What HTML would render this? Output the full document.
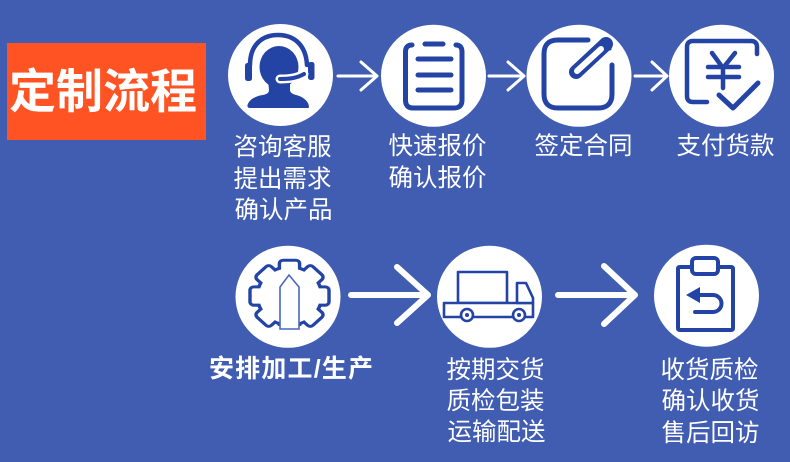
<!DOCTYPE html>
<html><head><meta charset="utf-8"><style>
html,body{margin:0;padding:0;background:#405db2;width:790px;height:462px;overflow:hidden}
svg{display:block}
text{font-family:"Liberation Sans","Noto Sans CJK SC",sans-serif;fill:#fff;font-size:24.500px}
.b{stroke:#2343a5;fill:none;stroke-linecap:round;stroke-linejoin:round}
.a{stroke:#fff;fill:none;stroke-linecap:round;stroke-linejoin:round}
</style></head><body>
<svg width="790" height="462" viewBox="0 0 790 462" xmlns="http://www.w3.org/2000/svg">
<rect width="790" height="462" fill="#405db2"/>
<rect x="7" y="43" width="199" height="97" fill="#ff5323"/>
<text x="9" y="108" style="font-size:47px;font-weight:700">定制流程</text>

<g fill="#fff">
<ellipse cx="280.500" cy="75" rx="52.500" ry="51"/>
<ellipse cx="433.500" cy="75.800" rx="52.500" ry="51"/>
<ellipse cx="579" cy="75.800" rx="52.500" ry="51"/>
<ellipse cx="721.500" cy="75.800" rx="52.500" ry="51"/>
<ellipse cx="288" cy="296.800" rx="52.500" ry="51"/>
<ellipse cx="489.500" cy="296.800" rx="52.500" ry="51"/>
<ellipse cx="706.500" cy="295.700" rx="52.500" ry="51"/>
</g>

<!-- arrows -->
<g class="a" stroke-width="3">
<path d="M338 76H376M361 62L377 76L361 90"/>
<path d="M489 76H523M508 62L524 76L508 90"/>
<path d="M635 76H666M652 62L667 76L652 90"/>
</g>
<g class="a" stroke-width="6">
<path d="M351 295H426M397 267L428 295L397 323"/>
<path d="M558 295H633M604 266L635 295L604 324"/>
</g>

<!-- headset -->
<g>
<ellipse cx="279" cy="67" rx="19.500" ry="21" fill="#2343a5"/>
<path fill="#2343a5" d="M268 80H290V90C290 93 293 94 296 95C304 97 309 102 309 107Q309 108 307 108H250Q247 108 247.500 105C249 100 255 96 263 95C267 94 269 93 269 90Z"/>
<path class="b" stroke-width="4.500" d="M250 65C250 45 262 35 278 35C295 35 306 46 307 65"/>
<rect x="245" y="63" width="7" height="18" rx="2.500" fill="#2343a5"/>
<rect x="308" y="62" width="6.500" height="18" rx="2.500" fill="#2343a5"/>
<path d="M280 79C290 79 297 78 304 74" fill="none" stroke="#fff" stroke-width="9" stroke-linecap="round"/>
<path d="M280 79C290 79 297 78 304 74" fill="none" stroke="#2343a5" stroke-width="4" stroke-linecap="round"/>
</g>

<!-- clipboard -->
<g class="b" stroke-width="5">
<path d="M412 45Q405.500 45 405.500 52V100Q405.500 108 413 108H454Q462 108 462 100V52Q462 45 456 45"/>
<path d="M425 44H443M418 59H451M418 75H451M418 90H451"/>
</g>

<!-- note & pencil -->
<g class="b">
<path stroke-width="5" d="M588 40H558Q544 40 544 54V94Q544 108 558 108H598Q612 108 612 94V65"/>
<path stroke-width="14" d="M576 72L606 44"/>
<path stroke="#fff" stroke-width="6" d="M577 71L601 49"/>
<path stroke-width="3" d="M602 41L610 49"/>
</g>

<!-- yen -->
<g class="b" stroke-width="4.500">
<path d="M757 54V47Q757 41 751 41H693Q687 41 687 47V96Q687 102 693 102H707"/>
<path d="M712 53L723 68L735 53M708 67H739M708 77H739M723 68V88"/>
<path stroke-width="5" d="M719 95L733 108L758 83"/>
</g>

<!-- gear -->
<g transform="translate(289.500 296) scale(1.050 .950)">
<g fill="#2343a5" stroke="#2343a5" stroke-width="6.500" stroke-linejoin="round">
<circle r="29"/>
<rect x="-8" y="-36" width="16" height="72" rx="2"/>
<rect x="-8" y="-36" width="16" height="72" rx="2" transform="rotate(45)"/>
<rect x="-8" y="-36" width="16" height="72" rx="2" transform="rotate(90)"/>
<rect x="-8" y="-36" width="16" height="72" rx="2" transform="rotate(135)"/>
</g>
<g fill="#fff">
<circle r="29"/>
<rect x="-8" y="-36" width="16" height="72" rx="2"/>
<rect x="-8" y="-36" width="16" height="72" rx="2" transform="rotate(45)"/>
<rect x="-8" y="-36" width="16" height="72" rx="2" transform="rotate(90)"/>
<rect x="-8" y="-36" width="16" height="72" rx="2" transform="rotate(135)"/>
</g>
</g>
<rect x="277" y="326" width="25" height="10" fill="#fff"/>
<path d="M280 329V287L289 275L299 287V329Z" fill="#fff" stroke="#4a66c0" stroke-width="1.600"/>

<!-- truck -->
<g fill="#fff" stroke="#2343a5" stroke-width="2.600" stroke-linejoin="round">
<rect x="458" y="272" width="49" height="31"/>
<rect x="444" y="303" width="89" height="14"/>
<path d="M517 283H526L533 298V303H517Z"/>
<circle cx="467" cy="315" r="6"/>
<circle cx="519" cy="315" r="6"/>
</g>
<circle cx="467" cy="315" r="2" fill="#2343a5"/>
<circle cx="519" cy="315" r="2" fill="#2343a5"/>

<!-- return clipboard -->
<g class="b" stroke-width="4">
<path d="M692 267H680Q678 267 678 269V328Q678 330 680 330H731Q733 330 733 328V269Q733 267 731 267H718"/>
<rect x="692" y="258" width="26" height="16" rx="4"/>
<path d="M698 295H713A8.500 8.500 0 0 1 713 312H695"/>
</g>
<path d="M700 287L686 295L700 303Z" fill="#2343a5"/>

<!-- labels -->
<text x="233.500" y="155">咨询客服</text>
<text x="233.500" y="187">提出需求</text>
<text x="234.500" y="218">确认产品</text>
<text x="388.500" y="154">快速报价</text>
<text x="388.500" y="186">确认报价</text>
<text x="534.500" y="154">签定合同</text>
<text x="676.500" y="154">支付货款</text>
<text x="209" y="377" style="font-weight:700;font-size:25px" textLength="164">安排加工/生产</text>
<text x="446.500" y="378">按期交货</text>
<text x="446.500" y="409">质检包装</text>
<text x="447.500" y="440">运输配送</text>
<text x="660.500" y="378">收货质检</text>
<text x="661.500" y="409">确认收货</text>
<text x="661.500" y="441">售后回访</text>
</svg>
</body></html>
